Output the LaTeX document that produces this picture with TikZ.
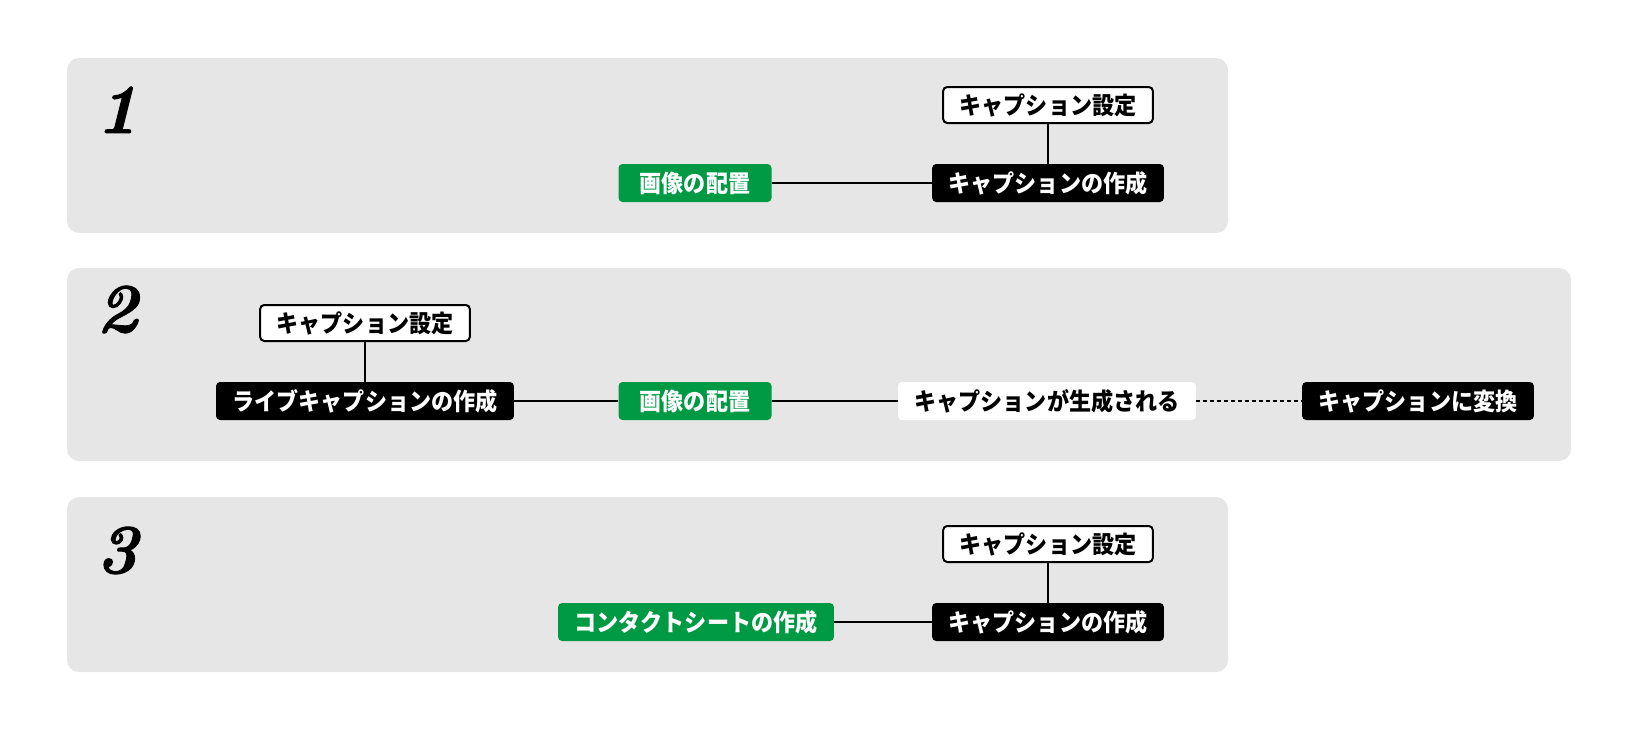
\documentclass[tikz,border=0pt]{standalone}
\usepackage{fontspec}
\newfontfamily\jp{Noto Sans CJK JP}[BoldFont={Noto Sans CJK JP Black}, BoldFeatures={FakeStretch=0.92}]
\newfontfamily\numfont{Latin Modern Roman}[BoldItalicFeatures={FakeBold=1.4}]
\definecolor{panelgray}{HTML}{E6E6E6}
\definecolor{jgreen}{HTML}{009944}
\tikzset{
  panel/.style={fill=panelgray, rounded corners=12pt},
  numlabel/.style={font=\numfont\fontsize{70}{70}\selectfont\bfseries\itshape, inner sep=0pt, anchor=base},
  boxbase/.style={font=\jp\bfseries\fontsize{24}{24}\selectfont, inner xsep=16.5pt, inner ysep=0pt,
    minimum height=38pt, text height=18.2pt, text depth=0pt, rounded corners=4pt},
  setbox/.style={boxbase, draw=black, line width=2pt, fill=white, text=black, minimum height=36pt},
  blackbox/.style={boxbase, fill=black, text=white},
  greenbox/.style={boxbase, fill=jgreen, text=white},
  plainbox/.style={boxbase, fill=white, text=black},
  conn/.style={draw=black, line width=1.8pt},
  dconn/.style={conn, dash pattern=on 4pt off 3pt}
}
\begin{document}
\begin{tikzpicture}[x=1pt,y=-1pt]
\useasboundingbox (0,0) rectangle (1646,732);
% panels
\fill[panel] (67,58) rectangle (1228,233);
\fill[panel] (67,268) rectangle (1571,461);
\fill[panel] (67,497) rectangle (1228,672);
% numbers
\node[numlabel] (n1) at (117,133) {1};
\node[numlabel] (n2) at (117,332) {2};
\node[numlabel] (n3) at (117,573) {3};
% panel 1
\node[setbox] (s1) at (1048,105) {キャプション設定};
\node[greenbox, minimum width=153pt] (g1) at (695,183) {画像の配置};
\node[blackbox] (b1) at (1048,183) {キャプションの作成};
\draw[conn] (g1.east) -- (b1.west);
\draw[conn] (s1.south) -- (b1.north);
% panel 2
\node[setbox] (s2) at (365,323) {キャプション設定};
\node[blackbox] (l2) at (365,401) {ライブキャプションの作成};
\node[greenbox, minimum width=153pt] (g2) at (695,401) {画像の配置};
\node[plainbox] (c2) at (1047,401) {キャプションが生成される};
\node[blackbox] (v2) at (1418,401) {キャプションに変換};
\draw[conn] (s2.south) -- (l2.north);
\draw[conn] (l2.east) -- (g2.west);
\draw[conn] (g2.east) -- (c2.west);
\draw[dconn] (c2.east) -- (v2.west);
% panel 3
\node[setbox] (s3) at (1048,544) {キャプション設定};
\node[greenbox] (g3) at (696,622) {コンタクトシートの作成};
\node[blackbox] (b3) at (1048,622) {キャプションの作成};
\draw[conn] (g3.east) -- (b3.west);
\draw[conn] (s3.south) -- (b3.north);
\end{tikzpicture}
\end{document}
